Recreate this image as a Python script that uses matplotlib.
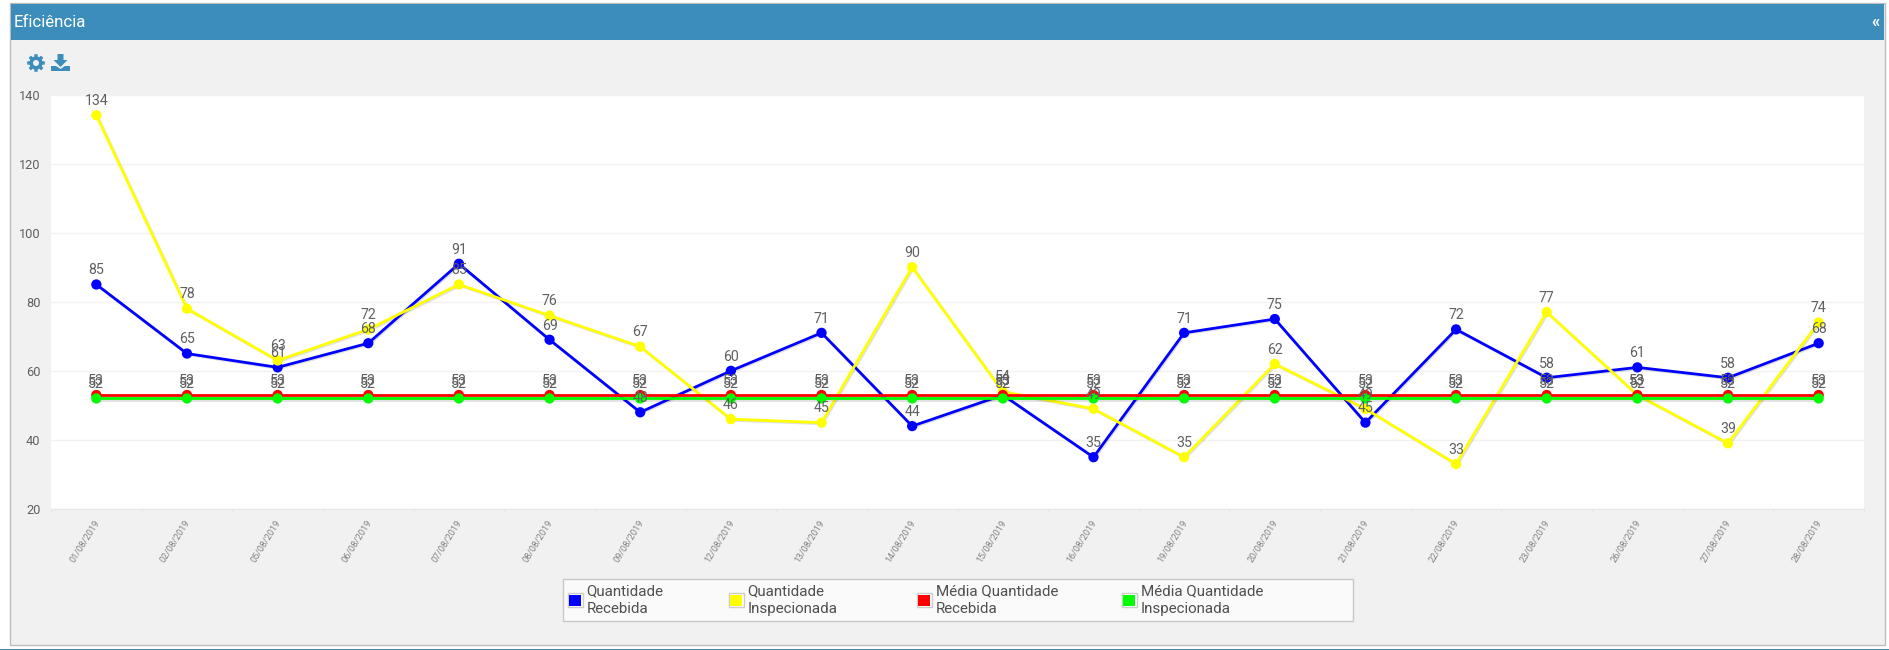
import numpy as np
import matplotlib.pyplot as plt
import matplotlib.patheffects as pe
from matplotlib.patches import Rectangle, Polygon, Circle

plt.rcParams['font.family'] = ['Roboto', 'DejaVu Sans']

# Data
datas = ['01/08/2019', '02/08/2019', '05/08/2019', '06/08/2019', '07/08/2019',
         '08/08/2019', '09/08/2019', '12/08/2019', '13/08/2019', '14/08/2019',
         '15/08/2019', '16/08/2019', '19/08/2019', '20/08/2019', '21/08/2019',
         '22/08/2019', '23/08/2019', '26/08/2019', '27/08/2019', '28/08/2019']
recebida = [85, 65, 61, 68, 91, 69, 48, 60, 71, 44, 53, 35, 71, 75, 45, 72, 58, 61, 58, 68]
inspecionada = [134, 78, 63, 72, 85, 76, 67, 46, 45, 90, 54, 49, 35, 62, 49, 33, 77, 53, 39, 74]
media_recebida = [53] * 20
media_inspecionada = [52] * 20
y_ticks = [20, 40, 60, 80, 100, 120, 140]

W, H = 1889, 650
BLUE = '#3c8dbc'
PANEL = '#f1f1f1'
TEXT = '#606060'

fig = plt.figure(figsize=(W / 100, H / 100), dpi=100, facecolor='white')

# Background layer in pixel coordinates: panel, header and toolbar
bg = fig.add_axes([0, 0, 1, 1], zorder=0)
bg.set_xlim(0, W)
bg.set_ylim(H, 0)
bg.axis('off')
bg.add_patch(Rectangle((10, 3), 1875, 642, fc=PANEL, ec='#bdbdbd', lw=1))
bg.add_patch(Rectangle((11, 4), 1873, 36, fc=BLUE, ec='none'))
bg.add_patch(Rectangle((0, 648.5), W, 2, fc='#4a86ad', ec='none'))
bg.text(14, 22.5, 'Eficiência', color='white', fontsize=12.2, va='center', ha='left')
bg.text(1875, 23, '«', color='white', fontsize=12, fontweight='bold', va='center', ha='center')

# Gear icon
ang = np.linspace(0, 2 * np.pi, 97)
rad = 8.8 - 2.2 * (np.cos(8 * ang) < -0.1)
bg.add_patch(Polygon(np.c_[36 + rad * np.cos(ang), 63 + rad * np.sin(ang)], fc=BLUE, ec='none'))
bg.add_patch(Circle((36, 63), 3, fc=PANEL, ec='none'))

# Download icon
bg.add_patch(Polygon([(57.5, 54), (63.5, 54), (63.5, 60), (67.5, 60), (60.5, 67), (53.5, 60), (57.5, 60)],
                     fc=BLUE, ec='none'))
bg.add_patch(Polygon([(51, 66), (56, 66), (60.5, 69), (65, 66), (70, 66), (70, 71), (51, 71)],
                     fc=BLUE, ec='none'))

# Chart area
left, right, top, bottom = 51, 1864, 94.5, 509
ax = fig.add_axes([left / W, 1 - bottom / H, (right - left) / W, (bottom - top) / H], zorder=1)
ax.set_facecolor('white')

x = np.arange(len(datas))
series = [(recebida, '#0000ff'), (inspecionada, '#ffff00'),
          (media_recebida, '#ff0000'), (media_inspecionada, '#00ff00')]

shadow = [pe.SimpleLineShadow(offset=(0.8, -0.8), shadow_color='#000000', alpha=0.12), pe.Normal()]
for i, (values, color) in enumerate(series):
    ax.plot(x, values, color=color, lw=2.0, marker='o', ms=7.4, mew=0, zorder=3 + i,
            path_effects=shadow, clip_on=False)

# Value labels above every point
for values, color in series:
    for xi, v in zip(x, values):
        ax.annotate(str(v), (xi, v), xytext=(0, 10.2), textcoords='offset points',
                    ha='center', va='center', fontsize=10.2, color=TEXT, zorder=10,
                    annotation_clip=False)

ax.set_xlim(-0.5, len(datas) - 0.5)
ax.set_ylim(20, 140)
ax.set_yticks(y_ticks)
ax.tick_params(axis='y', length=0, labelsize=9.2, labelcolor=TEXT, pad=7.5)
ax.grid(axis='y', color='#f2f2f2', lw=1)
ax.set_axisbelow(True)
for s in ax.spines.values():
    s.set_visible(False)
ax.spines['bottom'].set_visible(True)
ax.spines['bottom'].set_color('#e6e6e6')

# Ticks sit on the band edges, labels in the band centres
ax.set_xticks(np.arange(len(datas) + 1) - 0.5)
ax.set_xticklabels([])
ax.tick_params(axis='x', length=2.5, color='#e6e6e6')
for xi, d in zip(x, datas):
    ax.annotate(d, (xi, 20), xytext=(1, -8.5), textcoords='offset points', rotation=58,
                rotation_mode='anchor', ha='right', va='center', fontsize=6.5,
                color='#808080', annotation_clip=False)

# Legend box
bg.add_patch(Rectangle((563, 579), 790, 42, fc='#fafafa', ec='#c8c8c8', lw=1))
legend_items = [('Quantidade\nRecebida', '#0000ff', 575, 586.5),
                ('Quantidade\nInspecionada', '#ffff00', 736, 747.5),
                ('Média Quantidade\nRecebida', '#ff0000', 924, 936),
                ('Média Quantidade\nInspecionada', '#00ff00', 1129, 1141)]
for label, color, sx, tx in legend_items:
    bg.add_patch(Rectangle((sx - 7.5, 593), 15, 14, fc='white', ec='#cccccc', lw=1))
    bg.add_patch(Rectangle((sx - 6, 594.5), 12, 11, fc=color, ec='none'))
    line1, line2 = label.split('\n')
    bg.text(tx, 591, line1, fontsize=10.9, color='#505050', va='center', ha='left')
    bg.text(tx, 609, line2, fontsize=10.9, color='#505050', va='center', ha='left')

fig.savefig('out.png', dpi=100, facecolor='white')
